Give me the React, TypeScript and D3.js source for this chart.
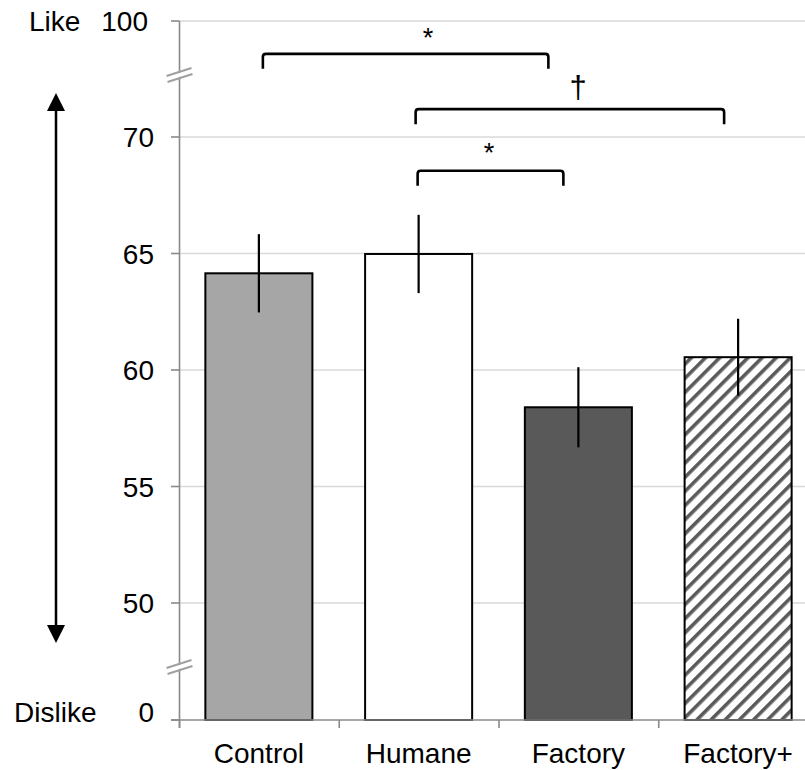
import { useMemo } from 'react';
import * as d3 from 'd3';

// Chart data
const CATEGORIES = ['Control', 'Humane', 'Factory', 'Factory+'];
const MEANS = [64.15, 64.98, 58.4, 60.55];
const ERRORS = [1.68, 1.68, 1.72, 1.65];
const FILLS = ['#a6a6a6', '#ffffff', '#595959', 'url(#hatch)'];

const Y_TICKS = [0, 50, 55, 60, 65, 70, 100];
const GRID_TICKS = [50, 55, 60, 65, 70, 100];
const BREAKS = [75, 667]; // pixel rows where the axis is broken

// Significance brackets: from/to category, dx nudges, level on y scale, label
const BRACKETS = [
  { from: 'Control', to: 'Factory', dx1: 4, dx2: -30, level: 91.5, label: '*', labelX: 428, labelDy: -17 },
  { from: 'Humane', to: 'Factory+', dx1: -3, dx2: -14, level: 77.2, label: '†', labelX: 578, labelDy: -22 },
  { from: 'Humane', to: 'Factory', dx1: -1, dx2: -15, level: 68.55, label: '*', labelX: 489, labelDy: -19 },
];

const WIDTH = 805;
const HEIGHT = 770;
const FONT = '"Liberation Sans", Arial, sans-serif';
const AXIS = '#8a8a8a';
const GRID = '#d9d9d9';

export default function App() {
  const x = useMemo(
    () => d3.scaleBand<string>().domain(CATEGORIES).range([179, 818]).paddingInner(0.33).paddingOuter(0.165),
    []
  );
  // broken axis: 0..50 squeezed, 50..70 main, 70..100 squeezed
  const y = useMemo(() => d3.scaleLinear().domain([0, 50, 70, 100]).range([720, 603, 137, 21]), []);

  const axisX = 179.5;
  const step = x.step();
  const edges = d3.range(CATEGORIES.length + 1).map(i => 179 + i * step);

  return (
    <svg
      width={WIDTH}
      height={HEIGHT}
      style={{ position: 'absolute', left: 0, top: 0, background: '#fff' }}
      fontFamily={FONT}
    >
      <defs>
        <pattern id="hatch" patternUnits="userSpaceOnUse" width={10} height={10} patternTransform="rotate(45)">
          <rect width={10} height={10} fill="#fff" />
          <rect x={0} y={0} width={3.6} height={10} fill="#5a5a5a" />
        </pattern>
      </defs>

      {/* grid lines */}
      {GRID_TICKS.map(t => (
        <line key={t} x1={axisX} x2={WIDTH} y1={y(t)} y2={y(t)} stroke={GRID} strokeWidth={1.6} />
      ))}

      {/* bars */}
      {CATEGORIES.map((c, i) => (
        <rect
          key={c}
          x={x(c)}
          y={y(MEANS[i])}
          width={x.bandwidth()}
          height={y(0) - y(MEANS[i])}
          fill={FILLS[i]}
          stroke="#000"
          strokeWidth={2}
        />
      ))}

      {/* error bars */}
      {CATEGORIES.map((c, i) => {
        const cx = (x(c) || 0) + x.bandwidth() / 2;
        return (
          <line
            key={c}
            x1={cx}
            x2={cx}
            y1={y(MEANS[i] + ERRORS[i])}
            y2={y(MEANS[i] - ERRORS[i])}
            stroke="#000"
            strokeWidth={2.2}
          />
        );
      })}

      {/* y axis */}
      <line x1={axisX} x2={axisX} y1={y(100)} y2={728} stroke={AXIS} strokeWidth={1.6} />
      {Y_TICKS.map(t => (
        <line key={t} x1={171} x2={axisX} y1={y(t)} y2={y(t)} stroke={AXIS} strokeWidth={1.6} />
      ))}
      {Y_TICKS.map(t => (
        <text
          key={t}
          x={t === 100 ? 148 : 154}
          y={y(t) + (t === 0 ? -8 : 0)}
          dy="0.36em"
          textAnchor="end"
          fontSize={28}
          fill="#000"
        >
          {t}
        </text>
      ))}

      {/* axis breaks */}
      {BREAKS.map(by => (
        <g key={by}>
          <polygon
            points={`${axisX - 6},${by + 4} ${axisX + 6},${by} ${axisX + 6},${by - 4} ${axisX - 6},${by}`}
            fill="#fff"
          />
          <line x1={axisX - 12} x2={axisX + 13} y1={by + 7} y2={by - 1} stroke="#a0a0a0" strokeWidth={2} />
          <line x1={axisX - 13} x2={axisX + 12} y1={by + 1} y2={by - 7} stroke="#a0a0a0" strokeWidth={2} />
        </g>
      ))}

      {/* x axis */}
      <line x1={171} x2={WIDTH} y1={y(0)} y2={y(0)} stroke={AXIS} strokeWidth={1.6} />
      {edges.map(e => (
        <line key={e} x1={e + 0.5} x2={e + 0.5} y1={y(0)} y2={728} stroke={AXIS} strokeWidth={1.6} />
      ))}
      {CATEGORIES.map(c => (
        <text key={c} x={(x(c) || 0) + x.bandwidth() / 2} y={763} textAnchor="middle" fontSize={28} fill="#000">
          {c}
        </text>
      ))}

      {/* Like / Dislike */}
      <text x={29} y={y(100)} dy="0.36em" fontSize={28} fill="#000">Like</text>
      <text x={14} y={y(0) - 8} dy="0.36em" fontSize={28} fill="#000">Dislike</text>

      {/* double-headed arrow */}
      <line x1={56} x2={56} y1={106} y2={628} stroke="#000" strokeWidth={2.5} />
      <polygon points="56,93 47,111 65,111" fill="#000" />
      <polygon points="56,643 47,625 65,625" fill="#000" />

      {/* significance brackets */}
      {BRACKETS.map((b, i) => {
        const x1 = (x(b.from) || 0) + x.bandwidth() / 2 + b.dx1;
        const x2 = (x(b.to) || 0) + x.bandwidth() / 2 + b.dx2;
        const by = y(b.level);
        const r = 3;
        const path = `M${x1},${by + 15} L${x1},${by + r} Q${x1},${by} ${x1 + r},${by} L${x2 - r},${by} Q${x2},${by} ${x2},${by + r} L${x2},${by + 15}`;
        return (
          <g key={i}>
            <path d={path} fill="none" stroke="#000" strokeWidth={2.6} />
            <text
              x={b.labelX}
              y={by + b.labelDy}
              dy="0.36em"
              textAnchor="middle"
              fontSize={b.label === '†' ? 31 : 27}
              fill="#000"
            >
              {b.label}
            </text>
          </g>
        );
      })}
    </svg>
  );
}
